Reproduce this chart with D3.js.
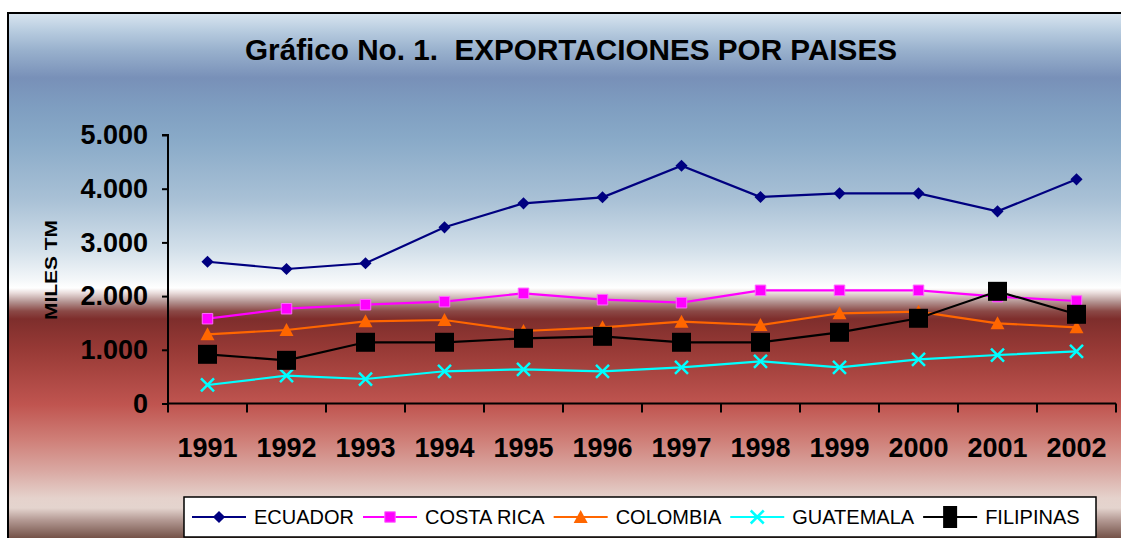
<!DOCTYPE html>
<html>
<head>
<meta charset="utf-8">
<script src="https://cdn.jsdelivr.net/npm/d3@7"></script>
<style>
  body { margin: 0; background: #fff; }
  text { font-family: Arial, "Liberation Sans", sans-serif; }
</style>
</head>
<body>
<script>
// datos (miles de TM)
const years = ["1991", "1992", "1993", "1994", "1995", "1996", "1997", "1998", "1999", "2000", "2001", "2002"];
const ecuador = [2640, 2505, 2611, 3281, 3728, 3840, 4428, 3845, 3914, 3914, 3579, 4175];
const costaRica = [1579, 1765, 1840, 1896, 2052, 1933, 1877, 2108, 2108, 2108, 1989, 1909];
const colombia = [1289, 1369, 1531, 1555, 1350, 1419, 1523, 1462, 1680, 1710, 1493, 1419];
const guatemala = [345, 518, 456, 600, 637, 600, 674, 786, 674, 823, 903, 972];
const filipinas = [916, 804, 1140, 1140, 1214, 1251, 1140, 1140, 1326, 1587, 2089, 1661];
const yTicks = [0, 1000, 2000, 3000, 4000, 5000];

const series = [
  { name: "ECUADOR", values: ecuador, color: "#000080", marker: "diamond" },
  { name: "COSTA RICA", values: costaRica, color: "#ff00ff", marker: "square" },
  { name: "COLOMBIA", values: colombia, color: "#ff6600", marker: "triangle" },
  { name: "GUATEMALA", values: guatemala, color: "#00ffff", marker: "cross" },
  { name: "FILIPINAS", values: filipinas, color: "#000000", marker: "bigsquare" }
];

const width = 1121, height = 538;
const svg = d3.select("body").append("svg")
  .attr("width", width)
  .attr("height", height);

// fondo degradado
const bg = [
  [12, "#dbe7f1"], [30, "#b9cde0"], [50, "#99b1cd"], [78, "#7890b8"],
  [105, "#7e9dc0"], [140, "#89aac8"], [200, "#a9c1d6"], [250, "#d3e0ea"],
  [280, "#f4f7f9"], [288, "#ffffff"], [293, "#e9dcdb"], [302, "#b39290"],
  [311, "#8b4a47"], [319, "#7e2e2c"], [350, "#983a36"], [405, "#c05550"],
  [440, "#cf7f78"], [470, "#d9a7a1"], [498, "#e5d2cc"], [508, "#e4d4ce"],
  [520, "#b49a94"], [538, "#745248"]
];
const grad = svg.append("defs").append("linearGradient")
  .attr("id", "bg")
  .attr("gradientUnits", "userSpaceOnUse")
  .attr("x1", 0).attr("x2", 0).attr("y1", 12).attr("y2", 538);
grad.selectAll("stop").data(bg).join("stop")
  .attr("offset", d => (d[0] - 12) / 526)
  .attr("stop-color", d => d[1]);

svg.append("rect")
  .attr("x", 8).attr("y", 13)
  .attr("width", 1200).attr("height", 600)
  .attr("fill", "url(#bg)")
  .attr("stroke", "#000")
  .attr("stroke-width", 2);

svg.append("text")
  .attr("x", 571).attr("y", 60)
  .attr("text-anchor", "middle")
  .attr("font-size", 29)
  .attr("font-weight", "bold")
  .attr("textLength", 652)
  .attr("lengthAdjust", "spacingAndGlyphs")
  .style("white-space", "pre")
  .text("Gráfico No. 1.  EXPORTACIONES POR PAISES");

const x = d3.scaleBand().domain(years).range([168, 1116]);
const y = d3.scaleLinear().domain([0, 5000]).range([403.5, 135]);
const fmt = d3.formatLocale({ decimal: ",", thousands: ".", grouping: [3], currency: ["", ""] }).format(",d");

// eje y
const yAxis = svg.append("g")
  .attr("transform", "translate(168,0)")
  .call(d3.axisLeft(y).tickValues(yTicks).tickSize(6).tickPadding(14).tickFormat(fmt));
yAxis.select(".domain").attr("stroke-width", 2).attr("d", `M-6,${y(5000)}H0V${y(0)}`);
yAxis.selectAll(".tick line").attr("stroke-width", 2);
yAxis.selectAll(".tick text")
  .attr("font-size", 27).attr("font-weight", "bold")
  .attr("fill", "#000").attr("font-family", "Arial, 'Liberation Sans', sans-serif");

// eje x
const xAxis = svg.append("g")
  .attr("transform", `translate(0,${y(0)})`)
  .call(d3.axisBottom(x).tickSize(0).tickPadding(34));
xAxis.select(".domain").attr("stroke-width", 2).attr("d", `M${x.range()[0]},0H${x.range()[1]}`);
xAxis.selectAll(".tick text")
  .attr("font-size", 27).attr("font-weight", "bold")
  .attr("fill", "#000").attr("font-family", "Arial, 'Liberation Sans', sans-serif");
xAxis.selectAll(".sep")
  .data(years.map(d => x(d)).concat([x.range()[1]]))
  .join("line")
  .attr("class", "sep")
  .attr("x1", d => d).attr("x2", d => d)
  .attr("y1", 0).attr("y2", 9)
  .attr("stroke", "#000").attr("stroke-width", 2);

svg.append("text")
  .attr("transform", "translate(57,270) rotate(-90)")
  .attr("text-anchor", "middle")
  .attr("font-size", 17)
  .attr("font-weight", "bold")
  .attr("textLength", 100)
  .attr("lengthAdjust", "spacingAndGlyphs")
  .text("MILES TM");

function drawMarker(g, type, color) {
  if (type === "diamond") {
    g.append("path").attr("d", d3.symbol(d3.symbolSquare, 74)())
      .attr("transform", "rotate(45)").attr("fill", color);
  } else if (type === "square") {
    g.append("path").attr("d", d3.symbol(d3.symbolSquare, 110)())
      .attr("fill", color).attr("stroke", "#ff66ff").attr("stroke-width", 1);
  } else if (type === "triangle") {
    g.append("path").attr("d", "M0,-7L7,6L-7,6Z").attr("fill", color);
  } else if (type === "cross") {
    g.append("path").attr("d", "M-6.5,-6.5L6.5,6.5M-6.5,6.5L6.5,-6.5")
      .attr("stroke", color).attr("stroke-width", 2.5).attr("fill", "none");
  } else if (type === "legsquare") {
    g.append("path").attr("d", "M-7,-11H7V11H-7Z").attr("fill", color);
  } else {
    g.append("path").attr("d", d3.symbol(d3.symbolSquare, 361)()).attr("fill", color);
  }
}

const cx = d => x(d) + x.bandwidth() / 2;
const line = d3.line().x((v, i) => cx(years[i])).y(v => y(v));

series.forEach(s => {
  const g = svg.append("g");
  g.append("path")
    .attr("d", line(s.values))
    .attr("fill", "none")
    .attr("stroke", s.color)
    .attr("stroke-width", 2.2);
  g.selectAll("g.m").data(s.values).join("g")
    .attr("class", "m")
    .attr("transform", (v, i) => `translate(${cx(years[i])},${y(v)})`)
    .each(function () { drawMarker(d3.select(this), s.marker, s.color); });
});

// leyenda
const legend = svg.append("g");
legend.append("rect")
  .attr("x", 184).attr("y", 497)
  .attr("width", 912).attr("height", 40)
  .attr("fill", "#fff").attr("stroke", "#000").attr("stroke-width", 1.5);
let lx = 192;
series.forEach(s => {
  const g = legend.append("g").attr("transform", `translate(${lx},517)`);
  g.append("line").attr("x1", 0).attr("x2", 54)
    .attr("stroke", s.color).attr("stroke-width", 2.2);
  const m = g.append("g").attr("transform", "translate(27,0)");
  drawMarker(m, s.marker === "bigsquare" ? "legsquare" : s.marker, s.color);
  const t = g.append("text")
    .attr("x", 62).attr("y", 7)
    .attr("font-size", 20)
    .text(s.name);
  lx += 62 + t.node().getComputedTextLength() + 9;
});
</script>
</body>
</html>
